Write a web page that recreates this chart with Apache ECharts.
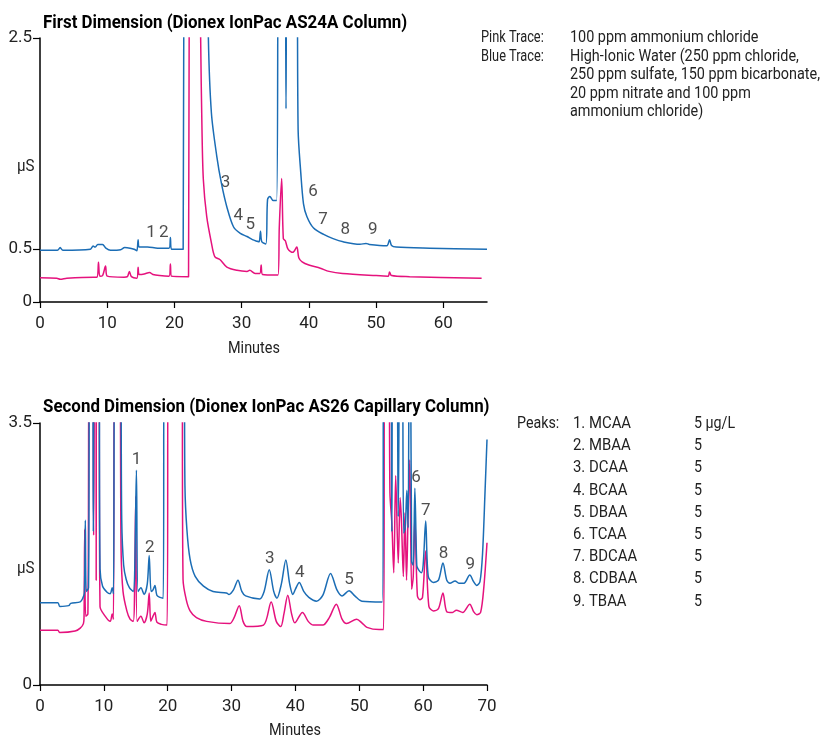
<!DOCTYPE html>
<html>
<head>
<meta charset="utf-8">
<title>Chromatograms</title>
<script src="https://cdn.jsdelivr.net/npm/echarts@6/dist/echarts.min.js"></script>
<style>
  html, body { margin: 0; padding: 0; background: #fff; }
  #mychart { width: 826px; height: 739px; }
</style>
</head>
<body>
<div id="mychart"></div>
<script>
// time (min), conductivity (uS)
const blueTop = [
  [0, 0.49], [2.6, 0.49], [3.0, 0.515], [3.4, 0.49], [7.5, 0.5], [7.9, 0.53], [8.2, 0.52], [8.6, 0.545],
  [9.3, 0.545], [9.8, 0.51], [10.5, 0.49], [12.0, 0.495], [12.6, 0.515], [13.4, 0.51], [14.0, 0.5],
  [14.4, 0.485], [14.6, 0.59], [14.75, 0.52], [16, 0.52], [17.5, 0.51], [19.2, 0.51], [19.4, 0.61],
  [19.55, 0.5], [21.3, 0.5], [21.45, 4], [24.8, 4], [25.05, 2.5], [25.5, 1.79], [26.3, 1.38], [27.0, 1.12],
  [27.8, 0.9], [28.8, 0.71], [29.8, 0.65], [30.8, 0.62], [31.6, 0.59], [32.3, 0.575], [32.6, 0.57],
  [32.8, 0.67], [33.0, 0.57], [33.6, 0.55], [33.85, 0.97], [34.2, 1.0], [34.7, 0.96], [35.2, 0.96],
  [35.6, 4], [36.4, 4], [36.6, 1.83], [36.8, 4], [38.1, 4], [38.4, 1.63], [38.8, 1.22], [39.2, 0.93],
  [39.7, 0.81], [40.7, 0.7], [42.2, 0.64], [43.6, 0.6], [45.1, 0.57], [47.6, 0.546], [48.5, 0.555],
  [49, 0.545], [51.6, 0.533], [52.0, 0.59], [52.3, 0.535], [53, 0.52], [58, 0.51], [66.5, 0.5]
]
const pinkTop = [
  [0, 0.23], [2.5, 0.225], [3.0, 0.215], [4, 0.225], [8.0, 0.235], [8.5, 0.235], [8.7, 0.376], [8.9, 0.245],
  [9.3, 0.25], [9.75, 0.34], [10.0, 0.245], [12.5, 0.235], [13.0, 0.24], [13.3, 0.29], [13.6, 0.24],
  [14.4, 0.225], [14.6, 0.33], [14.75, 0.26], [15.5, 0.265], [16.3, 0.28], [16.8, 0.26], [17.8, 0.25],
  [19.2, 0.245], [19.4, 0.36], [19.55, 0.245], [22.1, 0.24], [22.25, 4], [23.7, 4], [23.9, 2.5],
  [24.1, 1.63], [24.3, 1.16], [24.8, 0.81], [25.5, 0.56], [26.0, 0.43], [26.8, 0.4], [27.8, 0.33],
  [29.3, 0.3], [30.8, 0.29], [31.2, 0.3], [32.0, 0.27], [32.7, 0.27], [32.9, 0.35], [33.1, 0.26],
  [35.4, 0.255], [35.6, 0.71], [35.95, 1.17], [36.2, 0.6], [36.5, 0.58], [36.9, 0.5], [37.6, 0.47],
  [38.2, 0.52], [38.5, 0.42], [39, 0.38], [40, 0.35], [41.7, 0.32], [43, 0.29], [45, 0.27], [50, 0.25],
  [51.8, 0.245], [52.0, 0.285], [52.3, 0.25], [55, 0.24], [65.7, 0.225]
]
const blueBottom = [
  [0, 1.1], [2.8, 1.1], [3.1, 1.05], [4.5, 1.06], [4.8, 1.09], [6.3, 1.11], [6.7, 1.16], [6.95, 1.23],
  [7.1, 2.2], [7.25, 1.25], [7.6, 1.3], [7.8, 5], [8.2, 5], [8.35, 2.05], [8.5, 5], [9.2, 5], [9.4, 1.55],
  [9.8, 1.32], [10.5, 1.24], [11.0, 1.22], [11.3, 1.3], [11.5, 1.22], [11.8, 5], [12.5, 5], [12.8, 2.2],
  [13.1, 1.6], [13.5, 1.41], [14.0, 1.3], [14.6, 1.25], [14.85, 1.6], [15.1, 2.87], [15.35, 1.25],
  [15.8, 1.3], [16.3, 1.21], [16.8, 1.35], [17.1, 1.73], [17.4, 1.25], [17.7, 1.27], [18.0, 1.33],
  [18.3, 1.2], [18.8, 1.17], [19.3, 1.16], [19.45, 5], [22.5, 5], [22.7, 2.65], [23.0, 2.08], [23.5, 1.68],
  [24.3, 1.45], [25.6, 1.32], [27.1, 1.25], [29.2, 1.23], [29.6, 1.21], [30.3, 1.27], [31.0, 1.4],
  [31.6, 1.25], [32.2, 1.19], [34.4, 1.15], [35.1, 1.25], [35.9, 1.54], [36.6, 1.25], [37.1, 1.16],
  [37.8, 1.35], [38.5, 1.67], [39.1, 1.35], [39.6, 1.21], [40.0, 1.28], [40.6, 1.37], [41.3, 1.25],
  [42.1, 1.17], [43.3, 1.12], [44.3, 1.2], [45.5, 1.49], [46.5, 1.27], [47.3, 1.19], [48.4, 1.26],
  [49.3, 1.19], [50.4, 1.12], [53.6, 1.11], [53.9, 5], [54.9, 5], [55.1, 2.05], [55.3, 5], [55.8, 5],
  [56.1, 2.25], [56.4, 5], [56.7, 5], [56.95, 2.03], [57.2, 2.1], [57.45, 2.6], [57.65, 2.1], [57.85, 5],
  [58.0, 5], [58.2, 1.65], [58.45, 1.6], [58.7, 2.63], [59.0, 1.6], [59.2, 1.55], [59.7, 1.5], [60.0, 1.6],
  [60.4, 2.19], [60.8, 1.45], [61.6, 1.37], [62.4, 1.4], [63.1, 1.63], [63.7, 1.4], [64.2, 1.36],
  [65.0, 1.39], [65.6, 1.36], [66.4, 1.36], [67.3, 1.47], [67.9, 1.38], [68.4, 1.33], [68.9, 1.38],
  [69.3, 1.75], [69.7, 2.6], [70, 3.28]
]
const pinkBottom = [
  [0, 0.73], [2.8, 0.73], [3.1, 0.7], [5.5, 0.72], [6.3, 0.76], [6.8, 0.82], [6.9, 0.92], [7.0, 2.08],
  [7.15, 0.92], [7.5, 0.95], [7.75, 5], [8.2, 5], [8.4, 2.0], [8.6, 5], [8.75, 5], [8.8, 1.4], [8.85, 5],
  [9.2, 5], [9.4, 1.05], [10.2, 0.92], [11.0, 0.85], [11.3, 0.95], [11.5, 0.88], [11.7, 5], [12.4, 5],
  [12.7, 1.8], [13.0, 1.25], [13.6, 0.99], [14.1, 0.88], [14.6, 0.85], [14.8, 1.2], [15.0, 2.52],
  [15.2, 0.85], [15.8, 0.92], [16.3, 0.83], [16.8, 0.95], [17.1, 1.23], [17.35, 0.85], [17.7, 0.92],
  [18.0, 0.97], [18.3, 0.84], [19.0, 0.81], [19.9, 0.8], [20.1, 5], [22.2, 5], [22.4, 1.41], [22.9, 1.14],
  [23.5, 0.99], [24.5, 0.9], [26.1, 0.85], [29.7, 0.82], [30.4, 0.9], [31.2, 1.06], [31.8, 0.85],
  [32.4, 0.78], [35.0, 0.8], [36.2, 1.11], [37.0, 0.85], [37.7, 0.78], [38.2, 0.95], [38.8, 1.2],
  [39.4, 0.95], [39.9, 0.83], [41.1, 0.97], [42.0, 0.85], [42.8, 0.8], [44.3, 0.8], [45.3, 0.9],
  [46.4, 1.08], [47.3, 0.88], [48.0, 0.82], [49.6, 0.88], [50.4, 0.83], [51.2, 0.77], [53.1, 0.74],
  [53.8, 0.74], [54.0, 5], [54.6, 5], [54.8, 2.57], [55.1, 2.16], [55.4, 1.5], [55.7, 2.8], [56.1, 1.63],
  [56.4, 2.5], [56.6, 2.2], [56.9, 1.45], [57.15, 2.3], [57.4, 1.4], [57.65, 2.3], [57.9, 3.01],
  [58.2, 1.28], [58.45, 1.45], [58.7, 2.23], [59.1, 1.19], [59.5, 1.14], [59.9, 1.17], [60.4, 1.79],
  [60.9, 1.05], [61.6, 0.99], [62.4, 1.02], [63.1, 1.23], [63.7, 0.98], [64.6, 0.97], [65.2, 1.0],
  [66.2, 0.97], [67.3, 1.08], [67.9, 0.98], [68.4, 0.94], [69.0, 0.97], [69.5, 1.3], [70, 1.9]
]
// peak numbers: time, height, label
const peakLabelsTop = [
  [16.5, 0.66, '1'], [18.4, 0.66, '2'], [27.6, 1.13, '3'], [29.5, 0.82, '4'], [31.3, 0.73, '5'],
  [40.6, 1.04, '6'], [42.1, 0.78, '7'], [45.4, 0.68, '8'], [49.5, 0.68, '9']
]
const peakLabelsBottom = [
  [15.1, 3.01, '1'], [17.2, 1.84, '2'], [36.0, 1.69, '3'], [40.7, 1.5, '4'], [48.4, 1.4, '5'],
  [58.9, 2.77, '6'], [60.4, 2.33, '7'], [63.2, 1.75, '8'], [67.4, 1.61, '9']
]
const xTicksTop = [0, 10, 20, 30, 40, 50, 60]
const xTicksBottom = [0, 10, 20, 30, 40, 50, 60, 70]
const yTicksTop = [0, 0.5, 2.5]
const yTicksBottom = [0, 3.5]
const peakNames = ['1. MCAA', '2. MBAA', '3. DCAA', '4. BCAA', '5. DBAA', '6. TCAA', '7. BDCAA', '8. CDBAA', '9. TBAA']
const peakAmounts = ['5 µg/L', '5', '5', '5', '5', '5', '5', '5', '5']
const traceLabels = ['Pink Trace:', 'Blue Trace:']
const traceText = [
  '100 ppm ammonium chloride',
  'High-Ionic Water (250 ppm chloride,',
  '250 ppm sulfate, 150 ppm bicarbonate,',
  '20 ppm nitrate and 100 ppm',
  'ammonium chloride)'
]

const FONT = 'Roboto, "Noto Sans", sans-serif'
const BLUE = '#1b6db5'
const PINK = '#e5127d'
const TXT = '#222'
const NARROW = 0.89 // squeeze text to look like a condensed face

function xAxis(idx, max, ticks) {
  return {
    gridIndex: idx,
    type: 'value',
    min: 0,
    max: max,
    axisLine: { show: true, onZero: false, lineStyle: { color: '#000', width: 1.5 } },
    axisTick: { show: true, length: 6, customValues: ticks, lineStyle: { color: '#000', width: 1.2 } },
    axisLabel: { customValues: ticks, color: TXT, fontFamily: FONT, fontSize: 17, margin: 13 },
    splitLine: { show: false }
  }
}
function yAxis(idx, max, ticks) {
  return {
    gridIndex: idx,
    type: 'value',
    min: 0,
    max: max,
    axisLine: { show: true, lineStyle: { color: '#000', width: 1.5 } },
    axisTick: { show: true, length: 7, customValues: ticks, lineStyle: { color: '#000', width: 1.2 } },
    axisLabel: { customValues: ticks, color: TXT, fontFamily: FONT, fontSize: 17, margin: 8 },
    splitLine: { show: false }
  }
}
function trace(data, color, idx) {
  return {
    type: 'line',
    xAxisIndex: idx,
    yAxisIndex: idx,
    data: data,
    symbol: 'none',
    smooth: 0.3,
    clip: true,
    silent: true,
    lineStyle: { color: color, width: 1.5 }
  }
}
function labels(data, idx) {
  return {
    type: 'scatter',
    xAxisIndex: idx,
    yAxisIndex: idx,
    data: data,
    symbolSize: 0,
    silent: true,
    label: {
      show: true,
      position: 'inside',
      formatter: p => p.value[2],
      color: TXT,
      fontFamily: FONT,
      fontSize: 17
    }
  }
}

const graphic = []
function text(x, y, str, font, color, sx) {
  graphic.push({
    type: 'text',
    x: x,
    y: y,
    scaleX: sx || NARROW,
    silent: true,
    style: {
      text: str,
      fill: color || TXT,
      font: font || '16px ' + FONT,
      verticalAlign: 'middle',
      align: 'left'
    }
  })
}
const TITLE_FONT = 'bold 19px ' + FONT
text(43, 23, 'First Dimension (Dionex IonPac AS24A Column)', TITLE_FONT, '#000', 0.89)
text(43, 407, 'Second Dimension (Dionex IonPac AS26 Capillary Column)', TITLE_FONT, '#000', 0.89)
text(17, 167, 'µS', '17px ' + FONT)
text(17, 569, 'µS', '17px ' + FONT)
text(228, 349, 'Minutes', '17px ' + FONT, TXT, 0.85)
text(269, 731, 'Minutes', '17px ' + FONT, TXT, 0.85)
traceLabels.forEach((s, i) => text(481, 38 + i * 18.6, s, null, TXT, 0.8))
traceText.forEach((s, i) => text(570, 38 + i * 18.6, s, null, TXT, 0.9))
text(517, 424, 'Peaks:')
peakNames.forEach((s, i) => text(573, 424 + i * 22.2, s, null, TXT, 0.93))
peakAmounts.forEach((s, i) => text(694, 424 + i * 22.2, s))

const option = {
  backgroundColor: '#fff',
  animation: false,
  grid: [
    { left: 40, top: 38, width: 447, height: 264 },
    { left: 40, top: 423, width: 447, height: 262 }
  ],
  xAxis: [xAxis(0, 66.5, xTicksTop), xAxis(1, 70, xTicksBottom)],
  yAxis: [yAxis(0, 2.5, yTicksTop), yAxis(1, 3.5, yTicksBottom)],
  graphic: graphic,
  series: [
    trace(pinkTop, PINK, 0),
    trace(blueTop, BLUE, 0),
    labels(peakLabelsTop, 0),
    trace(pinkBottom, PINK, 1),
    trace(blueBottom, BLUE, 1),
    labels(peakLabelsBottom, 1)
  ]
}
const myChart = echarts.init(document.getElementById('mychart'))
myChart.setOption(option)
</script>
</body>
</html>
